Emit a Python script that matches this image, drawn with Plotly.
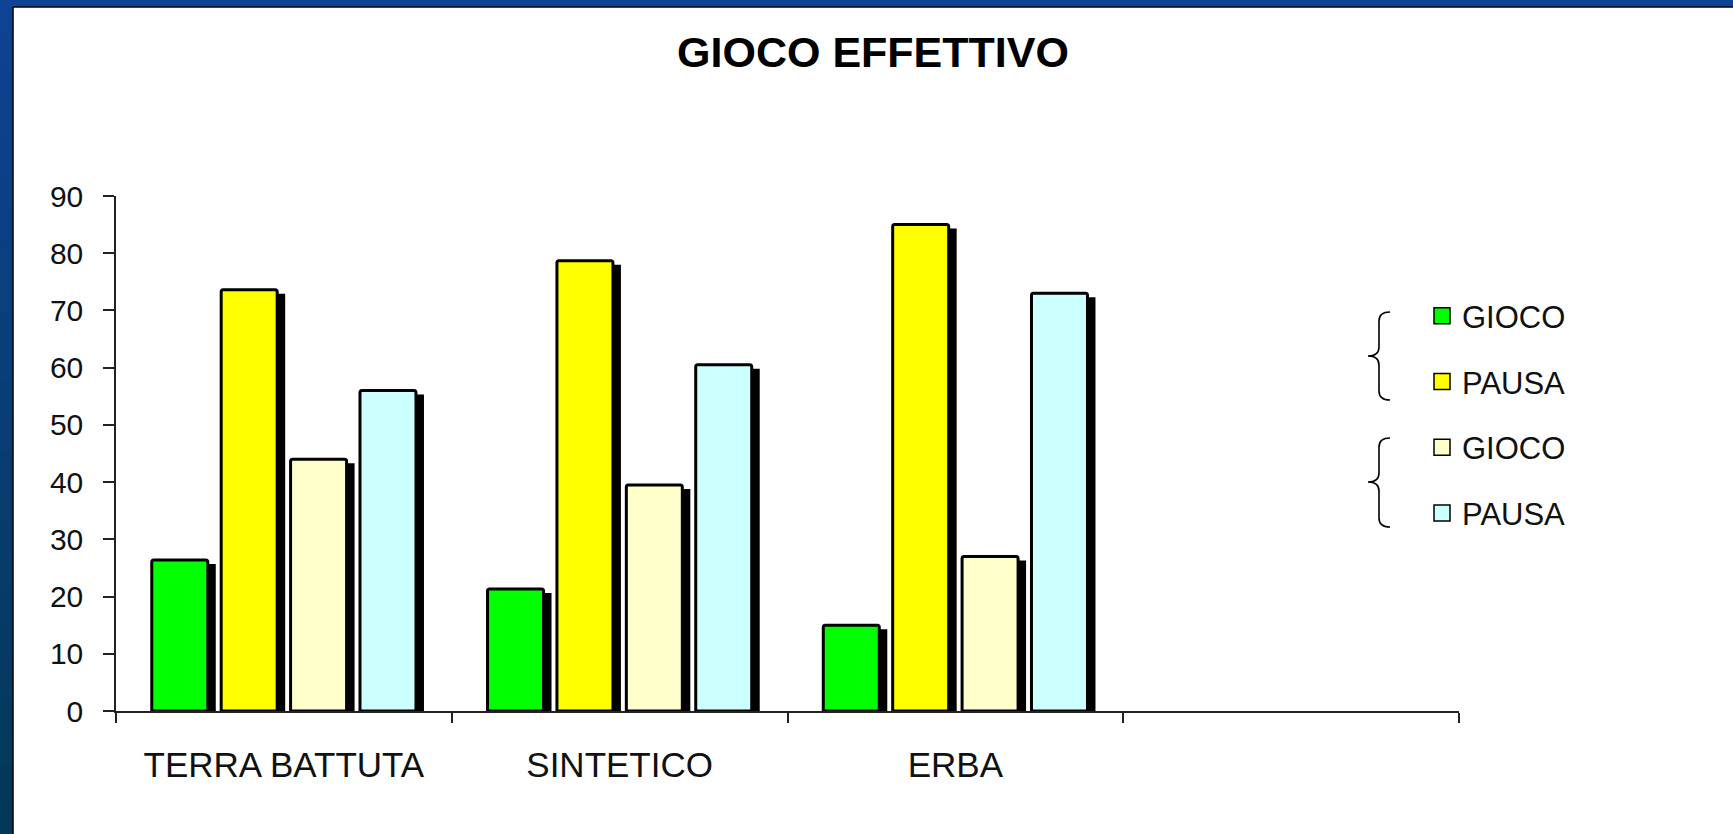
import plotly.graph_objects as go

# ---- data -------------------------------------------------------------
categories = ["TERRA BATTUTA", "SINTETICO", "ERBA"]
axis_slots = categories + [" "]          # fourth slot is left empty
series_names = ["GIOCO", "PAUSA", "GIOCO", "PAUSA"]
gioco_a = [26.4, 21.3, 15.0]
pausa_a = [73.6, 78.7, 85.0]
gioco_b = [44.0, 39.5, 27.0]
pausa_b = [56.0, 60.5, 73.0]
series_colors = ["#00FF00", "#FFFF00", "#FFFFCC", "#CCFFFF"]
y_ticks = [0, 10, 20, 30, 40, 50, 60, 70, 80, 90]

# ---- geometry ---------------------------------------------------------
W, H = 1733, 834
L, R, T, B = 116, 274, 196, 123
plot_w = W - L - R
plot_h = H - T - B
y_max = 90
cat_px = plot_w / len(axis_slots)
units_per_px = y_max / plot_h

bar_px = 56          # bar body width
pitch_px = 69.4      # distance between neighbouring bars of a group
shadow_dx = 8        # drop-shadow shift to the right (px)
shadow_dy = 4        # drop-shadow shift downwards (px)


def fx(px):
    return (px - L) / plot_w


def fy(py):
    return (H - B - py) / plot_h


FONT = "Liberation Sans, Arial, sans-serif"

fig = go.Figure()

all_series = [gioco_a, pausa_a, gioco_b, pausa_b]
for i, (name, vals, col) in enumerate(zip(series_names, all_series, series_colors)):
    centre = (i - 1.5) * pitch_px
    off = (centre - bar_px / 2) / cat_px
    width = bar_px / cat_px
    # drop shadow
    fig.add_trace(go.Bar(
        x=categories, y=[v - shadow_dy * units_per_px for v in vals],
        offset=off + shadow_dx / cat_px, width=width,
        marker=dict(color="black", line=dict(width=0)),
        showlegend=False, hoverinfo="skip",
    ))
    # the bar itself
    fig.add_trace(go.Bar(
        x=categories, y=vals, name=name,
        offset=off, width=width,
        marker=dict(color=col, line=dict(color="black", width=3), cornerradius=2),
        showlegend=False,
    ))
    # square legend key for this series
    fig.add_trace(go.Scatter(
        x=[None], y=[None], mode="markers", name=name, legendgroup=f"g{i}",
        marker=dict(symbol="square", size=16, color=col,
                    line=dict(color="black", width=1.5)),
    ))

# ---- slide frame (blue textured border on the left and top) -----------
shapes = []
n_seg = 24
top_rgb = (14, 66, 146)
bot_rgb = (4, 56, 88)
for k in range(n_seg):
    t = k / (n_seg - 1)
    c = tuple(round(a + (b - a) * t) for a, b in zip(top_rgb, bot_rgb))
    y0 = H * k / n_seg
    y1 = H * (k + 1) / n_seg + 2     # slight overlap avoids seams
    shapes.append(dict(type="rect", xref="paper", yref="paper",
                       x0=fx(0), x1=fx(13), y0=fy(y0), y1=fy(y1),
                       fillcolor="rgb(%d,%d,%d)" % c, line=dict(width=0), layer="below"))
shapes.append(dict(type="rect", xref="paper", yref="paper",
                   x0=fx(0), x1=fx(W), y0=fy(0), y1=fy(7),
                   fillcolor="rgb(14,68,148)", line=dict(width=0), layer="below"))
shapes.append(dict(type="line", xref="paper", yref="paper",
                   x0=fx(13), x1=fx(13), y0=fy(7), y1=fy(H),
                   line=dict(color="black", width=1.5), layer="below"))
shapes.append(dict(type="line", xref="paper", yref="paper",
                   x0=fx(13), x1=fx(W), y0=fy(7), y1=fy(7),
                   line=dict(color="black", width=1.5), layer="below"))


# ---- curly braces grouping the legend entries -------------------------
def brace(xe, xm, xt, yt, ytip, yb, r=9):
    p = lambda x, y: "%.5f,%.5f" % (fx(x), fy(y))
    return ("M" + p(xe, yt) + " Q" + p(xm, yt) + " " + p(xm, yt + r) +
            " L" + p(xm, ytip - r) + " Q" + p(xm, ytip) + " " + p(xt, ytip) +
            " Q" + p(xm, ytip) + " " + p(xm, ytip + r) +
            " L" + p(xm, yb - r) + " Q" + p(xm, yb) + " " + p(xe, yb))


for yt, ytip, yb in [(312, 356, 400), (438, 482, 527)]:
    shapes.append(dict(type="path", xref="paper", yref="paper",
                       path=brace(1390, 1379, 1368, yt, ytip, yb),
                       line=dict(color="black", width=1.6)))

fig.update_layout(
    width=W, height=H,
    margin=dict(l=L, r=R, t=T, b=B, pad=0, autoexpand=False),
    paper_bgcolor="white", plot_bgcolor="white",
    barmode="overlay",
    font=dict(family=FONT, color="#111111"),
    title=dict(text="GIOCO EFFETTIVO", x=873 / W, xanchor="center",
               y=1 - 52 / H, yanchor="middle", xref="container", yref="container",
               font=dict(family=FONT, size=43, color="black", weight=700)),
    xaxis=dict(type="category", categoryorder="array", categoryarray=axis_slots,
               range=[-0.5, len(axis_slots) - 0.5], tickson="boundaries",
               ticks="outside", ticklen=10, tickwidth=1.5, tickcolor="#222",
               showline=True, linecolor="#222", linewidth=1.5,
               showgrid=False, zeroline=False,
               tickfont=dict(size=35, color="#111"), ticklabelstandoff=22),
    yaxis=dict(range=[0, y_max], tickvals=y_ticks, ticks="outside", ticklen=11,
               tickwidth=1.5, tickcolor="#222", showline=True, linecolor="#222",
               linewidth=1.5, showgrid=False, zeroline=False,
               tickfont=dict(size=30, color="#111"), ticklabelstandoff=14),
    legend=dict(xref="container", yref="container", x=1422 / W, y=1 - 289 / H,
                xanchor="left", yanchor="top", font=dict(size=31, color="#111"),
                tracegroupgap=22.5, bgcolor="rgba(0,0,0,0)", borderwidth=0,
                itemclick=False),
    shapes=shapes,
)

fig.write_html("out.html")
